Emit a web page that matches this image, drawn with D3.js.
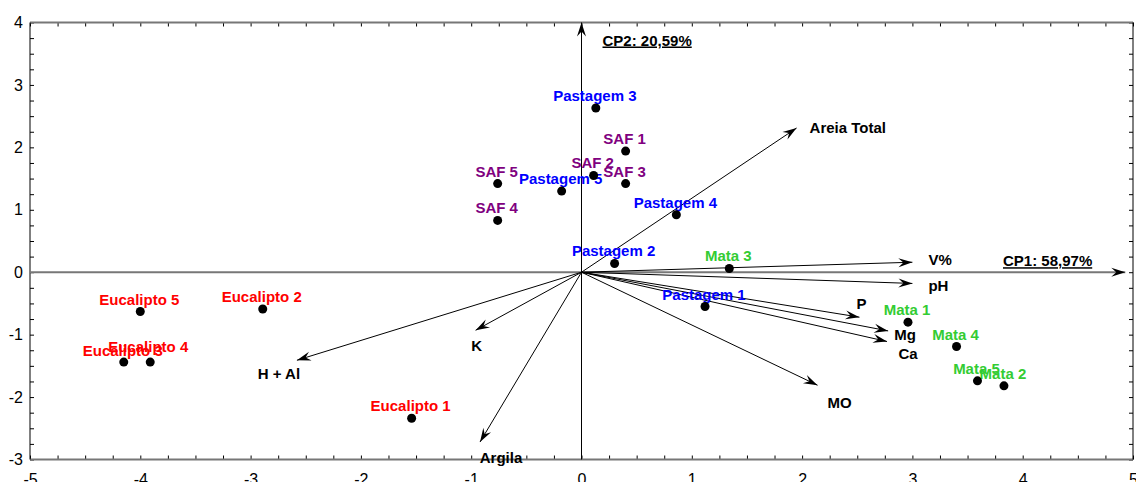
<!DOCTYPE html>
<html>
<head>
<meta charset="utf-8">
<script src="https://cdn.jsdelivr.net/npm/d3@7"></script>
<style>
    body { margin: 0; background: #fff; }
    svg { display: block; font-family: "Liberation Sans", Arial, sans-serif; }
    .tick text { font-size: 16px; fill: #000; }
    .lbl { font-size: 15px; font-weight: bold; }
</style>
</head>
<body>
<svg id="chart" width="1136" height="482"></svg>
<script>
// scores das amostras (CP1 x CP2)
const siteNames = ["Eucalipto 1", "Eucalipto 2", "Eucalipto 3", "Eucalipto 4", "Eucalipto 5",
    "Pastagem 1", "Pastagem 2", "Pastagem 3", "Pastagem 4", "Pastagem 5",
    "SAF 1", "SAF 2", "SAF 3", "SAF 4", "SAF 5",
    "Mata 1", "Mata 2", "Mata 3", "Mata 4", "Mata 5"];
const siteGroups = ["Eucalipto", "Eucalipto", "Eucalipto", "Eucalipto", "Eucalipto",
    "Pastagem", "Pastagem", "Pastagem", "Pastagem", "Pastagem",
    "SAF", "SAF", "SAF", "SAF", "SAF",
    "Mata", "Mata", "Mata", "Mata", "Mata"];
const siteCP1 = [-1.54, -2.89, -4.15, -3.91, -4.00,
    1.12, 0.30, 0.13, 0.86, -0.18,
    0.40, 0.11, 0.40, -0.76, -0.76,
    2.96, 3.83, 1.34, 3.40, 3.59];
const siteCP2 = [-2.34, -0.59, -1.44, -1.44, -0.63,
    -0.55, 0.14, 2.63, 0.92, 1.30,
    1.94, 1.55, 1.42, 0.83, 1.42,
    -0.80, -1.82, 0.06, -1.19, -1.74];

// vetores das variaveis
const varNames = ["Areia Total", "V%", "pH", "P", "Mg", "Ca", "MO", "K", "H + Al", "Argila"];
const varCP1 = [1.95, 3.00, 3.00, 2.52, 2.78, 2.77, 2.14, -0.96, -2.58, -0.92];
const varCP2 = [2.31, 0.16, -0.18, -0.72, -0.94, -1.11, -1.81, -0.93, -1.41, -2.72];

const xTicks = [-5, -4, -3, -2, -1, 0, 1, 2, 3, 4, 5];
const yTicks = [-3, -2, -1, 0, 1, 2, 3, 4];
const axisTitles = ["CP1: 58,97%", "CP2: 20,59%"];

const groupColor = {
    "Eucalipto": "#ff0000",
    "Pastagem": "#0000ff",
    "SAF": "#800080",
    "Mata": "#33cc33"
};

// deslocamento do rotulo em relacao a ponta da seta (px)
const varLabelPos = {
    "Areia Total": [13, 5, "start"],
    "V%": [16, 3, "start"],
    "pH": [16, 8, "start"],
    "P": [2, -8, "middle"],
    "Mg": [17, 9, "middle"],
    "Ca": [21, 17, "middle"],
    "MO": [22, 23, "middle"],
    "K": [1, 21, "middle"],
    "H + Al": [-18, 19, "middle"],
    "Argila": [21, 21, "middle"]
};
// pequenos ajustes manuais de rotulos de amostras (px)
const siteLabelNudge = { "Eucalipto 4": [-1, -3], "Eucalipto 3": [0, 1] };

const svg = d3.select("#chart");
const plotLeft = 30, plotRight = 1133, plotTop = 22.5, plotBottom = 459.5;

const x = d3.scaleLinear().domain([-5, 5]).range([plotLeft, plotRight]);
const y = d3.scaleLinear().domain([-3, 4]).range([plotBottom, plotTop]);

const defs = svg.append("defs");
defs.append("marker")
    .attr("id", "arrowhead")
    .attr("viewBox", "-15 -5 16 10")
    .attr("refX", 0)
    .attr("refY", 0)
    .attr("markerUnits", "userSpaceOnUse")
    .attr("markerWidth", 16)
    .attr("markerHeight", 10)
    .attr("orient", "auto")
    .append("path")
    .attr("d", "M-14,-4.5 L0,0 L-14,4.5 L-9,0 Z")
    .attr("fill", "#000");

// ticks menores a cada 0.25
const xMinor = d3.range(-5, 5.001, 0.25);
const yMinor = d3.range(-3, 4.001, 0.25);

svg.append("g")
    .attr("transform", "translate(0," + plotBottom + ")")
    .call(d3.axisBottom(x).tickValues(xMinor).tickSize(-4).tickFormat(""))
    .call(g => g.select(".domain").remove());
svg.append("g")
    .attr("transform", "translate(0," + plotTop + ")")
    .call(d3.axisTop(x).tickValues(xMinor).tickSize(-4).tickFormat(""))
    .call(g => g.select(".domain").remove());
svg.append("g")
    .attr("transform", "translate(" + plotLeft + ",0)")
    .call(d3.axisLeft(y).tickValues(yMinor).tickSize(-4).tickFormat(""))
    .call(g => g.select(".domain").remove());
svg.append("g")
    .attr("transform", "translate(" + plotRight + ",0)")
    .call(d3.axisRight(y).tickValues(yMinor).tickSize(-4).tickFormat(""))
    .call(g => g.select(".domain").remove());

// rotulos dos eixos (hifen simples, como no original)
svg.append("g")
    .attr("transform", "translate(0," + plotBottom + ")")
    .call(d3.axisBottom(x).tickValues(xTicks).tickSize(0).tickPadding(14).tickFormat(d => String(d)))
    .call(g => g.select(".domain").remove());
svg.append("g")
    .attr("transform", "translate(" + plotLeft + ",0)")
    .call(d3.axisLeft(y).tickValues(yTicks).tickSize(0).tickPadding(7).tickFormat(d => String(d)))
    .call(g => g.select(".domain").remove());
svg.selectAll("g").attr("font-size", null).attr("font-family", null);

// moldura
svg.append("line").attr("x1", plotLeft).attr("x2", plotRight).attr("y1", plotTop).attr("y2", plotTop)
    .attr("stroke", "#777").attr("stroke-width", 2);
svg.append("line").attr("x1", plotLeft).attr("x2", plotRight).attr("y1", plotBottom).attr("y2", plotBottom)
    .attr("stroke", "#777").attr("stroke-width", 2);
svg.append("line").attr("x1", plotLeft).attr("x2", plotLeft).attr("y1", plotTop).attr("y2", plotBottom)
    .attr("stroke", "#000").attr("stroke-width", 1);
svg.append("line").attr("x1", plotRight).attr("x2", plotRight).attr("y1", plotTop).attr("y2", plotBottom)
    .attr("stroke", "#000").attr("stroke-width", 1);

// eixos CP1 / CP2 passando pela origem
svg.append("line")
    .attr("x1", plotLeft).attr("y1", y(0))
    .attr("x2", x(4.93)).attr("y2", y(0))
    .attr("stroke", "#777").attr("stroke-width", 2)
    .attr("marker-end", "url(#arrowhead)");
svg.append("line")
    .attr("x1", x(0)).attr("y1", plotBottom)
    .attr("x2", x(0)).attr("y2", y(4))
    .attr("stroke", "#000").attr("stroke-width", 1)
    .attr("marker-end", "url(#arrowhead)");

svg.append("text")
    .attr("class", "lbl")
    .attr("x", x(5) - 130)
    .attr("y", y(0) - 6)
    .style("text-decoration", "underline")
    .text(axisTitles[0]);
svg.append("text")
    .attr("class", "lbl")
    .attr("x", x(0) + 21)
    .attr("y", y(4) + 23)
    .style("text-decoration", "underline")
    .text(axisTitles[1]);

// vetores
const vars = varNames.map((n, i) => ({ name: n, cp1: varCP1[i], cp2: varCP2[i] }));

svg.selectAll(".vec")
    .data(vars)
    .enter()
    .append("line")
    .attr("class", "vec")
    .attr("x1", x(0)).attr("y1", y(0))
    .attr("x2", d => x(d.cp1)).attr("y2", d => y(d.cp2))
    .attr("stroke", "#000").attr("stroke-width", 1)
    .attr("marker-end", "url(#arrowhead)");

svg.selectAll(".vlabel")
    .data(vars)
    .enter()
    .append("text")
    .attr("class", "lbl vlabel")
    .attr("x", d => x(d.cp1) + varLabelPos[d.name][0])
    .attr("y", d => y(d.cp2) + varLabelPos[d.name][1])
    .attr("text-anchor", d => varLabelPos[d.name][2])
    .attr("fill", "#000")
    .text(d => d.name);

// amostras
const sites = siteNames.map((n, i) => ({ name: n, group: siteGroups[i], cp1: siteCP1[i], cp2: siteCP2[i] }));
const nudge = d => siteLabelNudge[d.name] || [0, 0];

svg.selectAll(".slabel")
    .data(sites)
    .enter()
    .append("text")
    .attr("class", "lbl slabel")
    .attr("x", d => x(d.cp1) - 1 + nudge(d)[0])
    .attr("y", d => y(d.cp2) - 7 + nudge(d)[1])
    .attr("text-anchor", "middle")
    .attr("fill", d => groupColor[d.group])
    .text(d => d.name);

svg.selectAll(".site")
    .data(sites)
    .enter()
    .append("circle")
    .attr("class", "site")
    .attr("cx", d => x(d.cp1))
    .attr("cy", d => y(d.cp2))
    .attr("r", 4.5)
    .attr("fill", "#000");
</script>
</body>
</html>
